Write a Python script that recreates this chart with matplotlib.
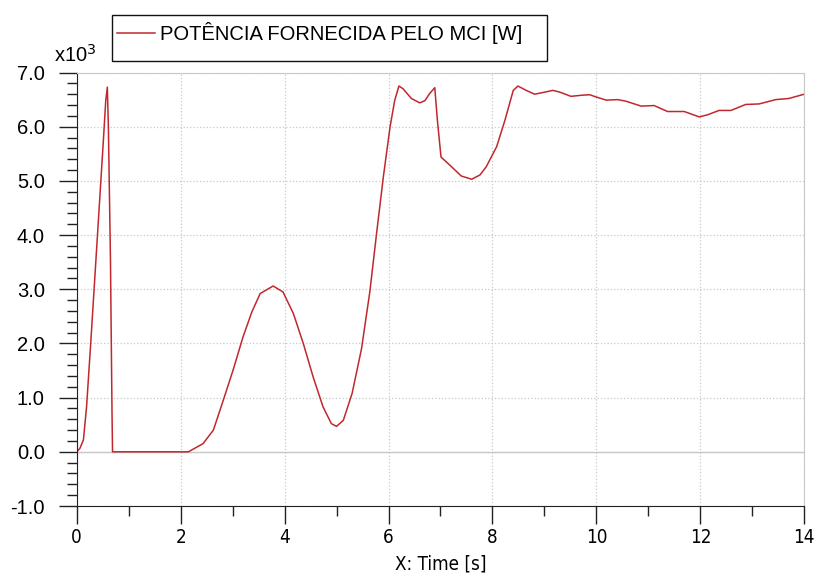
import matplotlib.pyplot as plt
from matplotlib import font_manager
from matplotlib.lines import Line2D
from matplotlib.patches import Rectangle
from matplotlib.ticker import MultipleLocator, FormatStrFormatter

# time [s] and power [x10^3 W]
time = [0.0, 0.06, 0.13, 0.19, 0.27, 0.35, 0.43, 0.51, 0.56, 0.59,
        0.61, 0.65, 0.68, 0.69, 1.5, 2.15, 2.43, 2.63, 2.82, 3.01, 3.2,
        3.37, 3.53, 3.78, 3.97, 4.17, 4.36, 4.55, 4.74, 4.9, 5.0, 5.13,
        5.3, 5.48, 5.64, 5.77, 5.9, 6.03, 6.12, 6.2, 6.28, 6.44, 6.6, 6.7,
        6.79, 6.89, 6.94, 7.01, 7.18, 7.4, 7.6, 7.76, 7.88, 8.08, 8.24,
        8.4, 8.49, 8.65, 8.81, 8.97, 9.16, 9.29, 9.51, 9.71, 9.87, 9.99,
        10.19, 10.41, 10.57, 10.86, 11.11, 11.37, 11.69, 11.98, 12.14, 12.36,
        12.59, 12.87, 13.13, 13.45, 13.7, 14.0]
power = [0.0, 0.06, 0.22, 0.83, 2.0, 3.23, 4.46, 5.69, 6.49, 6.73,
         6.0, 3.54, 0.71, 0.0, 0.0, 0.0, 0.15, 0.40, 0.95, 1.51, 2.12,
         2.58, 2.92, 3.06, 2.95, 2.55, 2.0, 1.38, 0.83, 0.52, 0.47, 0.58,
         1.08, 1.9, 2.95, 4.03, 5.07, 6.0, 6.49, 6.75, 6.70, 6.52, 6.44, 6.48,
         6.61, 6.72, 6.12, 5.44, 5.29, 5.09, 5.03, 5.11, 5.26, 5.63, 6.12,
         6.67, 6.75, 6.67, 6.60, 6.63, 6.67, 6.64, 6.56, 6.58, 6.59, 6.55,
         6.49, 6.50, 6.47, 6.38, 6.39, 6.28, 6.28, 6.18, 6.22, 6.30,
         6.30, 6.41, 6.42, 6.50, 6.52, 6.60]

label = "POTÊNCIA FORNECIDA PELO MCI [W]"
red = '#c0282d'

plt.rcParams['font.family'] = ['Liberation Sans', 'DejaVu Sans']

# the x axis texts use a narrow face in the reference
fonts = font_manager.fontManager.ttflist
names = {f.name for f in fonts}
if 'Liberation Sans Narrow' in names:
    xfont = dict(family='Liberation Sans Narrow', fontsize=15)
elif any(f.name == 'DejaVu Sans' and f.stretch == 'condensed' for f in fonts):
    xfont = dict(family='DejaVu Sans', fontstretch='condensed', fontsize=13.5)
else:
    xfont = dict(family='Liberation Sans', fontsize=13.5)

fig = plt.figure(figsize=(8.14, 5.75), dpi=100)
ax = fig.add_axes([0.0942, 0.12, 0.8939, 0.7539])

ax.plot(time, power, color=red, lw=1.1, label=label)

ax.set_xlim(0, 14)
ax.set_ylim(-1, 7)
ax.xaxis.set_major_locator(MultipleLocator(2))
ax.xaxis.set_minor_locator(MultipleLocator(1))
ax.yaxis.set_major_locator(MultipleLocator(1))
ax.yaxis.set_minor_locator(MultipleLocator(0.2))
ax.yaxis.set_major_formatter(FormatStrFormatter('%.1f'))

ax.tick_params(which='major', length=13, width=1.0, color='#222222')
ax.tick_params(which='minor', length=7, width=1.0, color='#222222')
ax.tick_params(axis='y', which='major', labelsize=14.5, pad=10)
ax.tick_params(axis='x', which='major', pad=3)
ax.set_xticks(range(0, 15, 2))
ax.set_xticklabels([str(v) for v in range(0, 15, 2)], **xfont)

ax.grid(True, which='major', linestyle=':', color='#c8c8c8', lw=0.9)
ax.axhline(0, color='#c8c8c8', lw=1.0, zorder=1)

for s in ['top', 'right']:
    ax.spines[s].set_color('#c8c8c8')
for s in ['left', 'bottom']:
    ax.spines[s].set_color('#222222')

ax.set_xlabel("X: Time [s]", labelpad=5, **xfont)
fig.text(0.066, 0.885, r"x10$^3$", fontsize=14.5, ha='left', va='bottom')

# legend box, taller than its single entry as in the reference
fig.patches.append(Rectangle((0.1372, 0.8939), 0.5344, 0.08,
                             transform=fig.transFigure, fill=False,
                             edgecolor='#111111', lw=1.0))
fig.lines.append(Line2D([0.1437, 0.1904], [0.9426, 0.9426],
                        transform=fig.transFigure, color=red, lw=1.1))
fig.text(0.1966, 0.9426, label, fontsize=14.5, ha='left', va='center')

fig.savefig("out.png", dpi=100)
